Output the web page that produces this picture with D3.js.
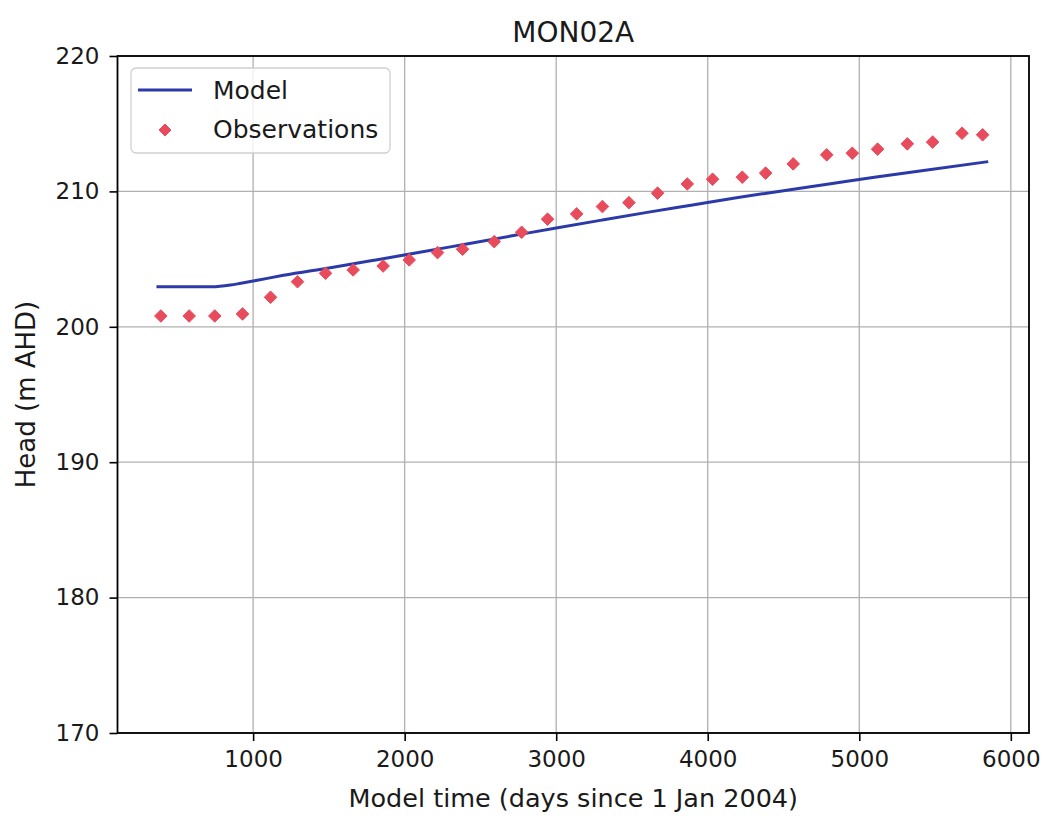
<!DOCTYPE html>
<html>
<head>
<meta charset="utf-8">
<script src="https://cdn.jsdelivr.net/npm/d3@7"></script>
<style>
  html, body { margin: 0; padding: 0; background: #ffffff; }
  svg { display: block; font-family: "DejaVu Sans", sans-serif; }
</style>
</head>
<body>
<svg id="chart" width="1048" height="820"></svg>
<script>
// ---- Data ----
const chartTitle = "MON02A";
const xLabel = "Model time (days since 1 Jan 2004)";
const yLabel = "Head (m AHD)";
const xTicks = [1000, 2000, 3000, 4000, 5000, 6000];
const yTicks = [170, 180, 190, 200, 210, 220];

const obsDays = [391, 578, 747, 930, 1115, 1293, 1478, 1660, 1858, 2030, 2217, 2382, 2591, 2772, 2943, 3135,
                 3305, 3480, 3669, 3865, 4032, 4228, 4382, 4564, 4785, 4954, 5121, 5317, 5484, 5678, 5814];
const obsHead = [200.80, 200.80, 200.80, 200.95, 202.18, 203.33, 203.95, 204.20, 204.49, 204.94, 205.48, 205.73,
                 206.29, 206.98, 207.95, 208.34, 208.88, 209.17, 209.87, 210.55, 210.90, 211.05, 211.35, 212.03,
                 212.70, 212.82, 213.12, 213.51, 213.64, 214.30, 214.18];

const modelDays = [362, 550, 730, 850, 920, 1000, 1200, 1500, 1800, 2100, 2400, 2700, 3000, 3300, 3600, 3900,
                   4200, 4500, 4800, 5100, 5400, 5851];
const modelHead = [202.96, 202.96, 202.95, 203.08, 203.22, 203.38, 203.80, 204.35, 204.92, 205.50, 206.10, 206.70,
                   207.30, 207.88, 208.45, 209.00, 209.55, 210.05, 210.55, 211.05, 211.50, 212.20];

const seriesNames = ["Model", "Observations"];

// ---- Layout ----
const svg = d3.select("#chart");
const plot = { left: 117.5, right: 1029, top: 56, bottom: 733 };
const lineColor = "#2b3aa8";
const markerColor = "#e84c5c";

const x = d3.scaleLinear().domain([105, 6120]).range([plot.left, plot.right]);
const y = d3.scaleLinear().domain([170, 220]).range([plot.bottom, plot.top]);

// grid
const grid = svg.append("g");
grid.selectAll("line.vx").data(xTicks).join("line")
  .attr("x1", d => x(d)).attr("x2", d => x(d))
  .attr("y1", plot.top).attr("y2", plot.bottom)
  .attr("stroke", "#b0b0b0").attr("stroke-width", 1.3);
grid.selectAll("line.hy").data(yTicks).join("line")
  .attr("x1", plot.left).attr("x2", plot.right)
  .attr("y1", d => y(d)).attr("y2", d => y(d))
  .attr("stroke", "#b0b0b0").attr("stroke-width", 1.3);

// axes
const xAxis = d3.axisBottom(x).tickValues(xTicks).tickSize(8).tickPadding(10).tickFormat(d3.format("d"));
const yAxis = d3.axisLeft(y).tickValues(yTicks).tickSize(8).tickPadding(10).tickFormat(d3.format("d"));

const gx = svg.append("g").attr("transform", `translate(0,${plot.bottom})`).call(xAxis);
const gy = svg.append("g").attr("transform", `translate(${plot.left},0)`).call(yAxis);
[gx, gy].forEach(g => {
  g.select(".domain").remove();
  g.selectAll(".tick line").attr("stroke", "#000").attr("stroke-width", 1.6);
  g.selectAll(".tick text").attr("fill", "#1a1a1a").style("font-size", "23px")
    .style("font-family", "'DejaVu Sans', sans-serif");
});

// model line
const line = d3.line().x((d, i) => x(modelDays[i])).y(d => y(d)).curve(d3.curveMonotoneX);
svg.append("path").datum(modelHead)
  .attr("d", line).attr("fill", "none")
  .attr("stroke", lineColor).attr("stroke-width", 3)
  .attr("stroke-linejoin", "round").attr("stroke-linecap", "butt");

// observation markers (diamonds)
const diamond = r => `M0,${-r}L${r},0L0,${r}L${-r},0Z`;
svg.append("g").selectAll("path").data(obsHead).join("path")
  .attr("transform", (d, i) => `translate(${x(obsDays[i])},${y(d)})`)
  .attr("d", diamond(6.3))
  .attr("fill", markerColor)
  .attr("stroke", markerColor).attr("stroke-width", 1).attr("stroke-linejoin", "round");

// frame
svg.append("rect")
  .attr("x", plot.left).attr("y", plot.top)
  .attr("width", plot.right - plot.left).attr("height", plot.bottom - plot.top)
  .attr("fill", "none").attr("stroke", "#000").attr("stroke-width", 1.8);

// title
svg.append("text").attr("x", (plot.left + plot.right) / 2).attr("y", 42)
  .attr("text-anchor", "middle").style("font-size", "28px").attr("fill", "#1a1a1a")
  .text(chartTitle);

// axis labels
svg.append("text").attr("x", (plot.left + plot.right) / 2).attr("y", 807)
  .attr("text-anchor", "middle").style("font-size", "25.5px").attr("fill", "#1a1a1a")
  .text(xLabel);
svg.append("text")
  .attr("transform", `translate(35,${(plot.top + plot.bottom) / 2}) rotate(-90)`)
  .attr("text-anchor", "middle").style("font-size", "26px").attr("fill", "#1a1a1a")
  .text(yLabel);

// legend
const lg = svg.append("g");
lg.append("rect").attr("x", 131).attr("y", 68).attr("width", 259).attr("height", 85)
  .attr("rx", 5).attr("fill", "#ffffff").attr("fill-opacity", 0.8)
  .attr("stroke", "#d0d0d0").attr("stroke-width", 1.3);
lg.append("line").attr("x1", 138).attr("x2", 192).attr("y1", 90).attr("y2", 90)
  .attr("stroke", lineColor).attr("stroke-width", 3);
lg.append("path").attr("transform", "translate(165,130)").attr("d", diamond(6.0))
  .attr("fill", markerColor).attr("stroke", markerColor).attr("stroke-width", 1).attr("stroke-linejoin", "round");
lg.selectAll("text").data(seriesNames).join("text")
  .attr("x", 213).attr("y", (d, i) => 99 + i * 38.5)
  .style("font-size", "25px").attr("fill", "#1a1a1a")
  .text(d => d);
</script>
</body>
</html>
